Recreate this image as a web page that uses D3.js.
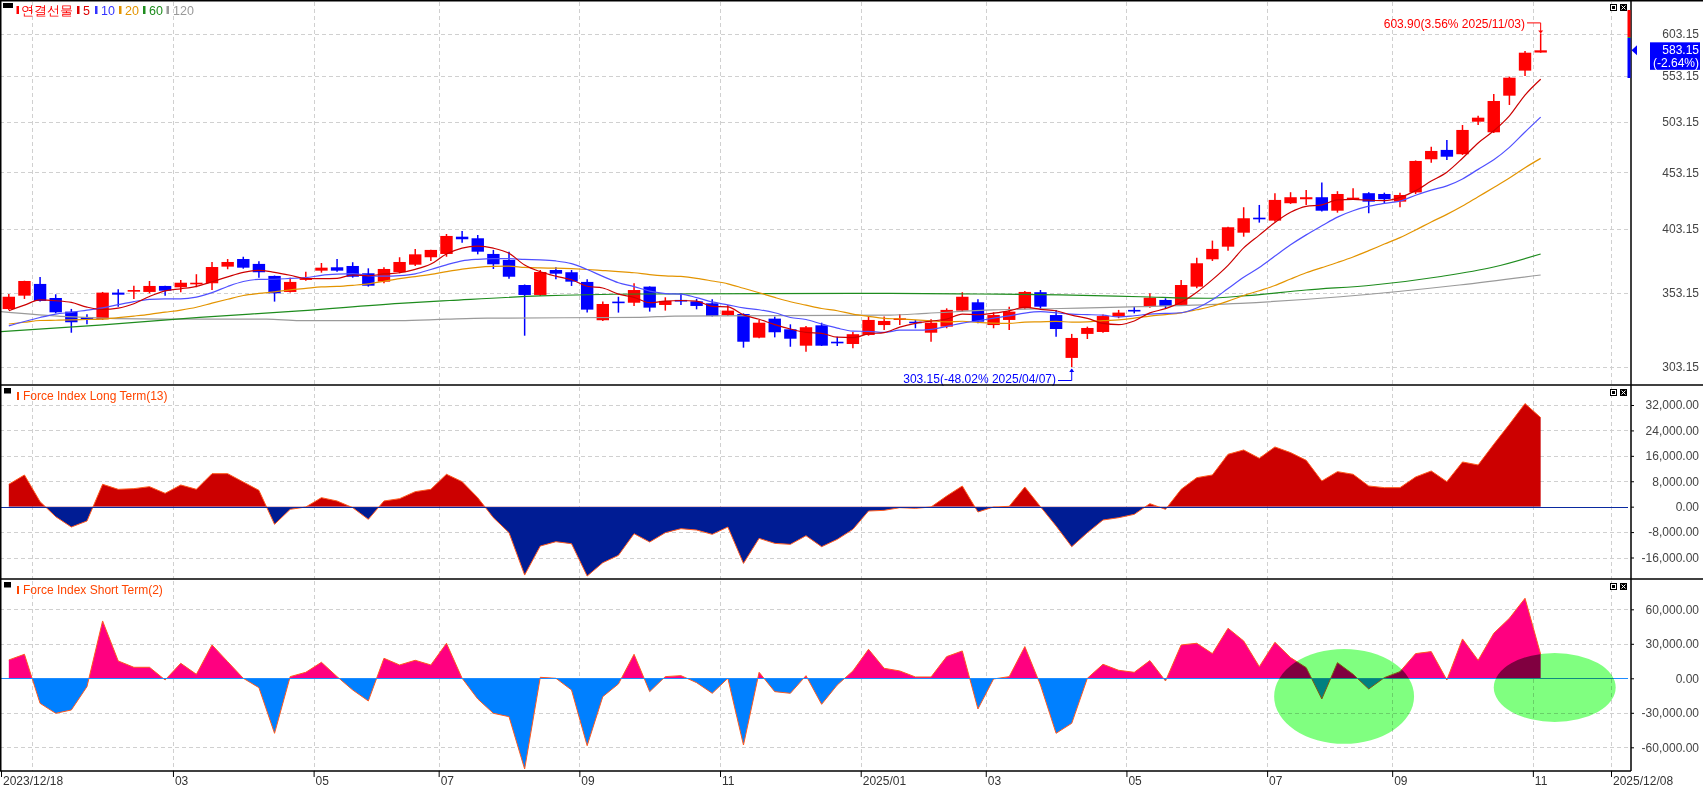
<!DOCTYPE html>
<html><head><meta charset="utf-8">
<script src="https://cdn.jsdelivr.net/npm/d3@7/dist/d3.min.js"></script>
<style>
html,body{margin:0;padding:0;background:#fff;overflow:hidden;}
svg{display:block;}
text{font-family:"Liberation Sans",Arial,sans-serif;}
</style></head>
<body>
<svg id="chart" width="1703" height="789"></svg>
<script>
// ---------------- DATA ----------------
// weekly candles, index 0 = week of 2023/12/18
const opens = [341.7,351.3,359.9,349.6,339.9,336.1,334.6,353.5,354.2,354.0,
358.4,357.4,359.9,360.4,373.0,378.9,375.1,365.9,354.0,362.9,
369.9,372.5,373.5,367.9,361.6,368.7,374.5,380.3,382.9,396.8,
395.5,382.9,378.2,359.1,351.8,370.4,368.7,361.4,333.9,347.0,
346.2,357.9,344.6,348.2,347.2,345.8,337.5,338.2,322.1,335.0,
327.7,316.8,330.4,319.4,317.9,323.9,330.6,334.1,332.9,325.4,
329.5,340.6,346.5,330.6,334.1,342.2,353.8,337.5,308.9,324.6,
325.9,336.4,341.1,343.4,348.2,344.6,357.9,378.7,388.7,400.1,
412.7,410.2,425.2,428.7,430.5,418.7,429.2,434.1,433.4,426.6,
434.8,465.6,474.7,470.5,503.2,492.3,531.0,559.2,580.5];
const highs = [352.5,362.3,365.1,352.3,341.8,338.0,354.0,356.0,358.6,362.1,
358.6,362.9,367.2,376.6,378.9,380.7,377.2,366.2,364.6,369.1,
375.8,378.9,376.4,371.7,372.5,380.3,386.9,386.3,399.0,401.5,
398.2,386.1,384.7,359.5,370.4,372.5,370.4,363.4,347.0,350.5,
360.4,358.1,350.1,353.0,348.9,348.7,344.6,338.7,334.1,336.4,
331.1,330.0,332.2,322.7,325.9,336.8,336.4,338.2,334.1,334.6,
342.2,353.8,348.7,339.4,343.4,354.7,355.4,341.1,324.6,329.5,
337.8,341.1,343.4,353.0,349.4,362.9,380.0,393.6,405.0,421.7,
423.7,434.0,435.0,437.0,443.9,435.9,438.6,435.0,434.6,434.6,
464.5,477.9,484.6,499.8,509.5,532.9,552.3,582.4,603.9];
const lows = [341.0,348.9,347.0,338.7,325.4,331.1,334.1,343.4,348.9,353.0,
351.3,353.8,357.4,355.4,371.0,371.4,364.6,347.0,353.5,362.3,
368.4,369.1,364.6,357.9,360.4,367.9,373.5,377.4,380.7,391.9,
382.6,371.2,363.8,323.4,351.1,363.4,358.4,339.2,333.4,339.2,
343.9,339.9,340.6,344.6,341.5,336.5,336.8,315.5,321.7,322.3,
316.1,312.9,316.6,316.6,315.1,323.4,327.3,330.6,328.4,319.4,
328.4,339.9,331.8,328.4,327.3,341.5,341.8,322.7,303.15,321.2,
325.4,335.3,338.7,342.7,342.2,344.1,356.7,377.4,385.5,396.8,
408.5,409.3,424.6,423.7,417.9,417.0,428.1,416.5,425.2,421.7,
433.4,462.4,465.0,469.8,499.8,491.6,520.9,553.1,580.3];
const closes = [350.5,362.1,347.5,339.4,332.5,334.1,353.5,352.0,355.4,358.4,
354.9,360.8,360.8,372.7,376.6,372.2,368.7,353.0,361.4,364.1,
372.2,369.9,365.3,358.6,371.2,376.6,382.6,386.1,397.4,394.7,
384.7,374.8,365.3,351.8,368.9,367.6,361.6,341.3,345.3,346.2,
355.4,342.7,347.5,347.2,343.9,336.8,340.6,319.4,332.2,325.7,
321.4,329.1,316.8,318.8,324.4,334.1,333.4,335.2,331.8,332.2,
341.1,350.5,332.9,337.5,339.9,354.0,343.4,327.9,321.9,328.6,
336.8,339.2,340.4,349.8,343.9,359.1,375.6,386.9,404.6,412.2,
411.3,428.1,430.5,430.5,418.7,433.4,430.1,426.6,428.7,432.5,
464.0,473.7,468.1,494.7,507.4,525.2,551.1,580.3,583.15];

// moving averages (values read per week)
const ma5 = [340.5,344.5,348.2,347.6,346.4,343.1,341.4,342.3,345.5,350.7,
354.8,356.3,358.1,361.5,365.2,368.6,370.2,368.6,366.4,363.9,
363.9,364.1,366.6,366.0,367.4,368.3,370.9,375.0,382.8,387.5,
389.1,387.5,383.4,374.3,369.1,365.7,363.0,358.2,356.9,352.4,
350.0,346.2,347.4,347.8,347.3,343.6,343.2,337.6,334.6,330.9,
327.9,325.6,325.0,322.4,322.1,324.6,325.5,329.2,331.8,333.3,
334.7,338.2,337.7,338.8,340.4,343.0,341.5,340.5,337.4,335.2,
331.7,330.9,333.4,339.0,342.0,346.5,353.8,363.1,374.0,387.7,
398.1,408.6,417.3,422.5,423.8,428.2,428.6,427.9,427.5,430.3,
436.4,445.1,453.4,466.6,481.6,493.8,509.3,531.7,549.4];
const ma10 = [330.0,333.0,335.8,338.2,339.4,341.0,342.5,344.8,347.0,348.6,
349.0,348.9,350.2,353.5,358.0,361.7,363.3,363.4,364.0,364.6,
366.3,367.2,367.6,366.2,365.7,366.1,367.5,370.8,374.4,377.5,
378.7,379.2,379.2,378.6,378.3,377.4,375.3,370.8,365.6,360.8,
357.9,354.6,352.8,352.4,349.9,346.8,344.7,342.5,341.2,339.1,
335.8,334.4,331.3,328.5,326.5,326.3,325.6,327.1,327.1,327.7,
329.7,331.9,333.5,335.3,336.9,338.9,339.9,339.1,338.1,337.8,
337.4,336.2,337.0,338.2,338.6,339.1,342.4,348.3,356.5,364.9,
372.3,381.2,390.2,398.3,405.8,413.2,418.6,422.6,425.0,427.1,
432.3,436.9,440.7,447.1,456.0,465.1,477.2,492.6,508.0];
const ma20 = [331.3,332.5,333.7,333.9,334.1,334.4,334.7,335.7,336.8,338.0,
339.5,341.0,343.0,345.9,348.7,351.4,352.9,354.1,355.5,356.6,
357.7,358.1,358.9,359.9,361.9,363.9,365.4,367.1,369.2,371.1,
372.5,373.2,373.4,372.4,372.0,371.8,371.4,370.8,370.0,369.2,
368.3,366.9,366.0,365.5,364.1,362.1,360.0,356.7,353.4,350.0,
346.9,344.5,342.1,340.5,338.2,336.6,335.2,334.8,334.2,333.4,
332.8,333.2,332.4,331.9,331.7,332.6,332.8,333.1,332.6,332.8,
333.6,334.1,335.3,336.8,337.8,339.0,341.2,343.7,347.3,351.4,
354.9,358.7,363.6,368.3,372.2,376.2,380.5,385.5,390.8,396.0,
402.3,409.1,415.5,422.7,430.9,439.2,447.9,457.6,466.5];
// sparse readings [week, value]
const ma60 = [[-0.5,326.1],[5.8,330.6],[12.2,335.9],[18.6,340.4],[25,345.8],[28.2,347.8],[34,351.1],[40.4,352.5],[56.4,353.0],[62,352.5],[67.3,351.8],[72.4,350.5],[76.6,349.4],[79.2,351.3],[83,355.4],[87.3,359.1],[91.5,365.3],[95,372.7],[98,382.9]];
const ma120 = [[-0.5,339.9],[3.7,336.4],[10,334.6],[16.5,334.6],[18.6,333.6],[25,333.6],[28,334.6],[30.6,335.3],[40.4,335.9],[42.6,336.8],[56.4,337.5],[58.7,338.7],[63,341.1],[67.3,342.1],[72.4,343.4],[78.8,345.8],[85.2,350.5],[92.8,359.1],[98,366.6]];

// Force Index Long Term(13)
const forceLong = [7035,9975,1575,-3150,-6405,-4515,7035,5460,5670,6300,
4200,6825,5460,10395,10395,7770,5145,-5565,-840,-105,
2835,1785,-315,-3990,1785,2520,4725,5460,10185,7875,
2835,-3465,-8190,-21525,-12390,-11025,-11655,-21840,-17640,-15330,
-8505,-11130,-8190,-6930,-7350,-8715,-6405,-17850,-9975,-11550,
-11865,-9135,-12600,-10290,-7140,-1365,-1155,-315,-525,-105,
3360,6510,-1680,-105,105,6195,0,-6090,-12600,-8190,
-4200,-3465,-2415,945,-840,5460,9135,9975,16485,17850,
15225,18795,17010,14595,8085,11025,10185,6510,5985,5985,
9345,11235,7875,14070,13125,19635,25935,32445,28035];
// Force Index Short Term(2)
const forceShort = [15950,20880,-21750,-30450,-27550,-7250,49880,15080,9570,9570,
-1450,13050,3480,29000,14500,0,-8120,-47850,1450,5220,
13920,1450,-10150,-19720,17400,11600,15660,11600,30450,0,
-17980,-30450,-33350,-78880,870,0,-10150,-58580,-15950,-4930,
20880,-11600,1450,2320,-3770,-13050,0,-58000,5220,-11600,
-13050,2320,-22620,-5800,6380,25230,8700,6380,1160,1160,
18850,23780,-26680,-580,1450,27550,-5800,-47850,-39150,0,
12180,6960,5220,15370,-2320,29000,30450,21460,43500,32480,
10150,31320,17980,9280,-17980,13630,3480,-9280,580,5800,
21460,23200,-1450,34220,15660,39150,52200,69600,20880];

const priceTicks = [303.15,353.15,403.15,453.15,503.15,553.15,603.15];
const longTicks = [-16000,-8000,0,8000,16000,24000,32000];
const shortTicks = [-60000,-30000,0,30000,60000];
const labelWeeks = [0,11,20,28,37,46,55,63,72,81,89,98,103];
const weekLabels = ["2023/12/18","03","05","07","09","11","2025/01","03","05","07","09","11","2025/12/08"];
const gridWeeks = [2,11,20,28,37,46,55,63,72,81,89,98,103];
const legendNames = ["연결선물","5","10","20","60","120"];
// highlight ellipses on the short-term panel: [week0, week1, valueTop, valueBottom]
const highlights = [[81.45,90.4,25500,-57000],[95.5,103.3,22000,-38000]];
const hiInfo = {value:603.90, pct:"3.56%", date:"2025/11/03", idx:98};
const loInfo = {value:303.15, pct:"-48.02%", date:"2025/04/07", idx:68};
const lastPrice = 583.15, lastPct = "-2.64%";

// ---------------- CHART ----------------
const svg = d3.select("#chart");
const PR = 1631;
const P1=[0,385], P2=[385,579], P3=[579,771];
const x = d3.scaleLinear().domain([0,103]).range([1,1611]);
const cx = i => x(i+0.5);
const yP = d3.scaleLog().domain([303.15,603.15]).range([367,34]);
const yL = d3.scaleLinear().domain([-16000,32000]).range([557.5,405]);
const yS = d3.scaleLinear().domain([-60000,60000]).range([747.3,609.3]);
const minus = s => s.replace(/\u2212/g,"-");
const defs = svg.append("defs");
function clip(id,x0,y0,w,h){defs.append("clipPath").attr("id",id).append("rect").attr("x",x0).attr("y",y0).attr("width",w).attr("height",h);}
clip("c1",0,P1[0],1630,P1[1]-P1[0]);
clip("c2",0,P2[0],1630,P2[1]-P2[0]);
clip("c3",0,P3[0],1630,P3[1]-P3[0]);

// grids
const grid = svg.append("g").attr("stroke","#d0d0d0").attr("stroke-dasharray","4,3").attr("stroke-width",1).attr("fill","none");
[[P1,yP,priceTicks],[P2,yL,longTicks],[P3,yS,shortTicks]].forEach(([p,y,t])=>{
  grid.append("g").selectAll("line").data(t).join("line")
    .attr("x1",0).attr("x2",1630).attr("y1",d=>Math.round(y(d))+0.5).attr("y2",d=>Math.round(y(d))+0.5);
  grid.append("g").selectAll("line").data(gridWeeks).join("line")
    .attr("x1",d=>Math.round(x(d))+0.5).attr("x2",d=>Math.round(x(d))+0.5).attr("y1",p[0]+2).attr("y2",p[1]);
});

// candles
const cg = svg.append("g").attr("clip-path","url(#c1)");
const cdata = closes.map((c,i)=>({i,o:opens[i],h:highs[i],l:lows[i],c}));
const col = d => d.c >= d.o ? "#ff0000" : "#0000ff";
cg.selectAll("line.w").data(cdata).join("line").attr("class","w")
  .attr("x1",d=>cx(d.i)).attr("x2",d=>cx(d.i)).attr("y1",d=>yP(d.h)).attr("y2",d=>yP(d.l))
  .attr("stroke",col).attr("stroke-width",1.5);
cg.selectAll("rect").data(cdata).join("rect")
  .attr("x",d=>cx(d.i)-6.2).attr("width",12.4)
  .attr("y",d=>Math.min(yP(d.o),yP(d.c)))
  .attr("height",d=>Math.max(1.6,Math.abs(yP(d.o)-yP(d.c))))
  .attr("fill",col);

// moving averages
const mg = svg.append("g").attr("clip-path","url(#c1)").attr("fill","none");
const ln = d3.line().x(d=>cx(d[0])).y(d=>yP(d[1])).curve(d3.curveMonotoneX);
const toPairs = a => a.map((v,i)=>[i,v]);
[[ma120,"#9a9a9a"],[ma60,"#1e8c1e"],[toPairs(ma20),"#e39400"],[toPairs(ma10),"#5050ff"],[toPairs(ma5),"#cc0000"]]
  .forEach(([d,c])=>mg.append("path").datum(d).attr("d",ln).attr("stroke",c).attr("stroke-width",1.2));

// annotations
const ag = svg.append("g").attr("font-size",12);
{
  const hx = cx(hiInfo.idx), hy = yP(hiInfo.value);
  ag.append("text").attr("x",1525).attr("y",hy-5).attr("text-anchor","end").attr("fill","#ff0000")
    .text(`${hiInfo.value.toFixed(2)}(${hiInfo.pct} ${hiInfo.date})`);
  ag.append("path").attr("d",`M1527,${hy-10.5}H${hx}V${hy-1}`).attr("stroke","#ff0000").attr("fill","none");
  ag.append("path").attr("d",`M${hx-2.5},${hy-3}L${hx+2.5},${hy-3}L${hx},${hy}Z`).attr("fill","#ff0000");
  const lx = cx(loInfo.idx), ly = yP(loInfo.value);
  ag.append("text").attr("x",1056).attr("y",ly+16).attr("text-anchor","end").attr("fill","#0000ff")
    .text(`${loInfo.value.toFixed(2)}(${loInfo.pct} ${loInfo.date})`);
  ag.append("path").attr("d",`M1058,${ly+13.5}H${lx}V${ly+2}`).attr("stroke","#0000ff").attr("fill","none");
  ag.append("path").attr("d",`M${lx-2.5},${ly+5}L${lx+2.5},${ly+5}L${lx},${ly+1.5}Z`).attr("fill","#0000ff");
}

// force panels
function forcePanel(vals,y,p,cid,pos,neg,zero){
  const g = svg.append("g").attr("clip-path",`url(#${cid})`);
  const z = y(0);
  clip(cid+"p",0,p[0],1630,z-p[0]);
  clip(cid+"n",0,z,1630,p[1]-z);
  const area = d3.area().x((d,i)=>cx(i)).y0(z).y1(d=>y(d));
  g.append("path").datum(vals).attr("d",area).attr("fill",pos).attr("clip-path",`url(#${cid}p)`);
  g.append("path").datum(vals).attr("d",area).attr("fill",neg).attr("clip-path",`url(#${cid}n)`);
  g.append("path").datum(vals).attr("d",d3.line().x((d,i)=>cx(i)).y(d=>y(d)))
    .attr("fill","none").attr("stroke","#ff5a1e").attr("stroke-width",1);
  g.append("line").attr("x1",0).attr("x2",1628).attr("y1",Math.round(z)+0.5).attr("y2",Math.round(z)+0.5)
    .attr("stroke",zero).attr("stroke-width",1.2);
}
forcePanel(forceLong,yL,P2,"c2","#cc0000","#001c94","#0a2aa0");
forcePanel(forceShort,yS,P3,"c3","#ff0080","#0080ff","#1e8cff");

// highlight ellipses
svg.append("g").selectAll("ellipse").data(highlights).join("ellipse")
  .attr("cx",d=>(x(d[0])+x(d[1]))/2).attr("rx",d=>(x(d[1])-x(d[0]))/2)
  .attr("cy",d=>(yS(d[2])+yS(d[3]))/2).attr("ry",d=>(yS(d[3])-yS(d[2]))/2)
  .attr("fill","#80ff80").style("mix-blend-mode","multiply");

// frame
const fr = svg.append("g").attr("stroke","#000").attr("stroke-width",1.5).attr("fill","none");
fr.append("line").attr("x1",0).attr("x2",1703).attr("y1",0.75).attr("y2",0.75);
fr.append("line").attr("x1",0).attr("x2",1703).attr("y1",P1[1]).attr("y2",P1[1]);
fr.append("line").attr("x1",0).attr("x2",1703).attr("y1",P2[1]).attr("y2",P2[1]);
fr.append("line").attr("x1",0).attr("x2",PR).attr("y1",P3[1]).attr("y2",P3[1]);
fr.append("line").attr("x1",PR).attr("x2",PR).attr("y1",0).attr("y2",P3[1]);
fr.append("line").attr("x1",0.75).attr("x2",0.75).attr("y1",0).attr("y2",P3[1]);

// axes
function styleRight(g){
  g.select(".domain").remove();
  g.selectAll("text").attr("x",68).attr("text-anchor","end").attr("fill","#444").attr("font-size",12)
    .attr("font-family","Liberation Sans, Arial, sans-serif");
  g.selectAll(".tick line").attr("stroke","#000");
}
svg.append("g").attr("transform",`translate(${PR},0)`)
  .call(d3.axisRight(yP).tickValues(priceTicks).tickSize(0).tickFormat(d3.format(".2f"))).call(styleRight);
svg.append("g").attr("transform",`translate(${PR},0)`)
  .call(d3.axisRight(yL).tickValues(longTicks).tickSize(3).tickFormat(d=>minus(d3.format(",.2f")(d)))).call(styleRight);
svg.append("g").attr("transform",`translate(${PR},0)`)
  .call(d3.axisRight(yS).tickValues(shortTicks).tickSize(3).tickFormat(d=>minus(d3.format(",.2f")(d)))).call(styleRight);
svg.append("g").attr("transform",`translate(0,${P3[1]})`)
  .call(d3.axisBottom(x).tickValues(labelWeeks).tickSize(6).tickFormat((d,i)=>weekLabels[i]))
  .call(g=>{g.select(".domain").remove();
    g.selectAll(".tick line").attr("stroke","#000");
    g.selectAll("text").attr("text-anchor","start").attr("x",1.5).attr("y",5).attr("fill","#333")
      .attr("font-size",12).attr("font-family","Liberation Sans, Arial, sans-serif");});

// current price marker
svg.append("rect").attr("x",1627.5).attr("y",10).attr("width",3).attr("height",27).attr("fill","#ff0000");
svg.append("rect").attr("x",1627.5).attr("y",37).attr("width",3).attr("height",1).attr("fill","#2a9a2a");
svg.append("rect").attr("x",1627.5).attr("y",38).attr("width",3).attr("height",40).attr("fill","#0000ff");
{
  const py = yP(lastPrice);
  svg.append("path").attr("d",`M${PR+0.5},${py}L${PR+6},${py-5}L${PR+6},${py+5}Z`).attr("fill","#0000ff");
  svg.append("rect").attr("x",1650).attr("y",py-8).attr("width",50).attr("height",27.5).attr("fill","#0000ff");
  svg.append("text").attr("x",1699).attr("y",py+4).attr("text-anchor","end").attr("fill","#fff").attr("font-size",12).text(lastPrice.toFixed(2));
  svg.append("text").attr("x",1699).attr("y",py+17).attr("text-anchor","end").attr("fill","#fff").attr("font-size",12).text(`(${lastPct})`);
}

// panel icons
function icons(top){
  svg.append("rect").attr("x",1610.5).attr("y",top+4.5).attr("width",6).attr("height",6).attr("fill","#fff").attr("stroke","#000");
  svg.append("rect").attr("x",1612).attr("y",top+6).attr("width",3).attr("height",3).attr("fill","#000");
  svg.append("rect").attr("x",1620).attr("y",top+4).attr("width",7).attr("height",7).attr("fill","#000");
  svg.append("path").attr("d",`M1621.5,${top+5.5}L1625.5,${top+9.5}M1625.5,${top+5.5}L1621.5,${top+9.5}`).attr("stroke","#fff");
}
icons(P1[0]); icons(P2[0]); icons(P3[0]);

// legends
svg.append("rect").attr("x",3).attr("y",3).attr("width",10).attr("height",5).attr("fill","#000");
const legCols = ["#ff0000","#dd0000","#3333ff","#e39400","#1e8c1e","#999999"];
const legMarkX = [16.5,77,95,119,143,166.5];
const legTextX = [21,83,101,125,149,173];
legendNames.forEach((n,k)=>{
  svg.append("rect").attr("x",legMarkX[k]).attr("y",6).attr("width",2.5).attr("height",8).attr("fill",legCols[k]);
  svg.append("text").attr("x",legTextX[k]).attr("y",15).attr("fill",legCols[k])
    .attr("font-size",k===0?12.5:12.5)
    .attr("font-family",k===0?"Noto Sans CJK KR, sans-serif":"Liberation Sans, Arial, sans-serif").text(n);
});
[[P2[0],"Force Index Long Term(13)"],[P3[0],"Force Index Short Term(2)"]].forEach(([t,s])=>{
  svg.append("rect").attr("x",4).attr("y",t+3).attr("width",7).attr("height",5.5).attr("fill","#000");
  svg.append("rect").attr("x",17).attr("y",t+7).attr("width",2).attr("height",8).attr("fill","#ff4500");
  svg.append("text").attr("x",23).attr("y",t+15).attr("fill","#ff4500").attr("font-size",12).text(s);
});
</script>
</body></html>
